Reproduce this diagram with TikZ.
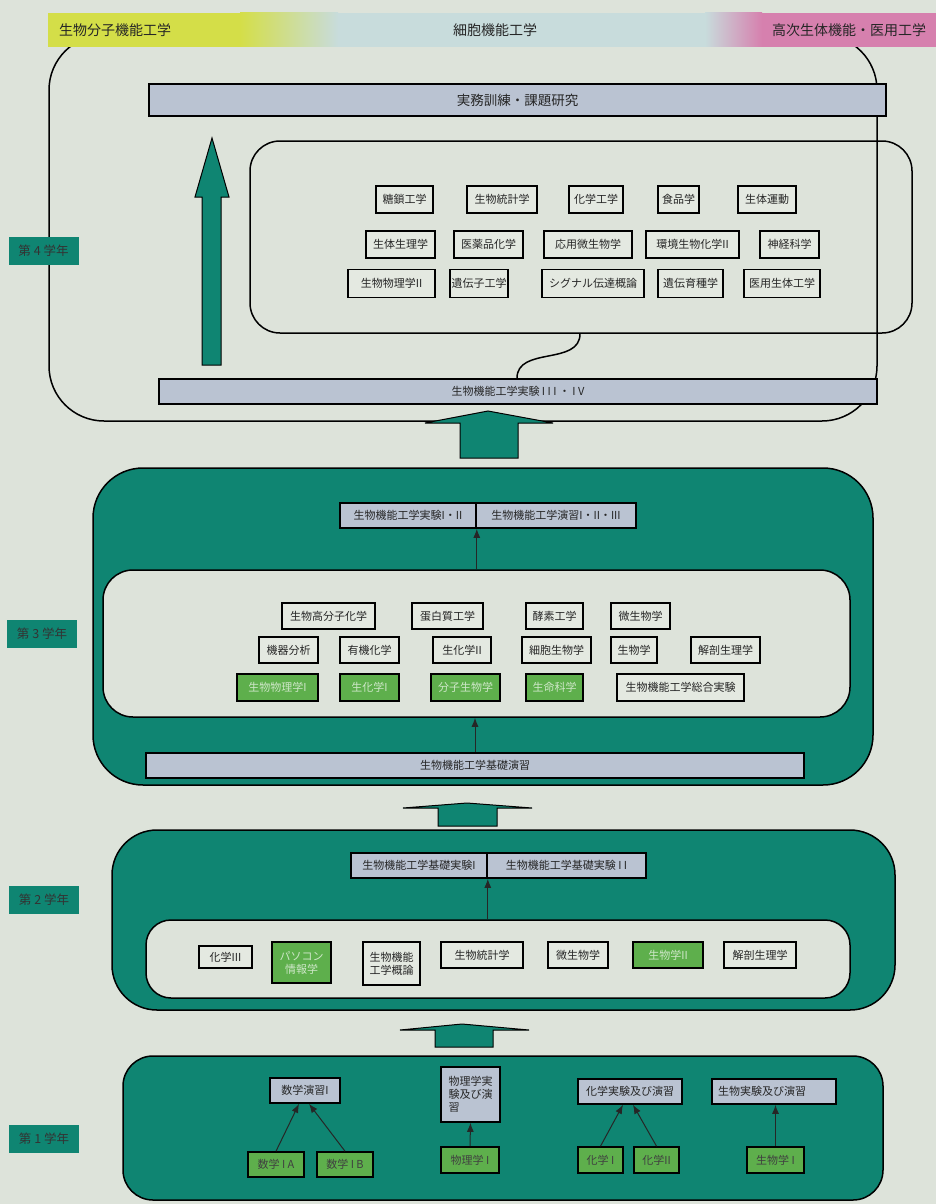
\documentclass[tikz,border=0pt]{standalone}
\usepackage{fontspec}
\setmainfont{Noto Sans CJK JP}
\usetikzlibrary{arrows.meta}

\definecolor{paper}{HTML}{DDE3DA}
\definecolor{deepteal}{HTML}{0F8572}
\definecolor{slate}{HTML}{BAC3D2}
\definecolor{leaf}{HTML}{5EAF4C}
\definecolor{lime}{HTML}{D4DE48}
\definecolor{midgreen}{HTML}{B3D58C}
\definecolor{sky}{HTML}{C8DCDC}
\definecolor{rose}{HTML}{D680AE}

\newcommand{\coursefont}{\fontsize{11}{13}\selectfont}
\newcommand{\yearfont}{\fontsize{12.5}{14}\selectfont}
\newcommand{\bannerfont}{\fontsize{14}{16}\selectfont}

\tikzset{
  box/.style 2 args={minimum width=#1, minimum height=#2},
  course/.style={draw=black, line width=1.6pt, fill=paper!80!white, inner xsep=1pt, inner ysep=1pt,
    align=center, font=\coursefont, text=black!85},
  gcourse/.style={course, fill=leaf, text=white!70!leaf},
  bar/.style={course, fill=slate},
  year/.style={fill=deepteal, text=black!80, minimum width=70, minimum height=28, inner sep=0pt, font=\yearfont},
  panel/.style={draw=black, line width=1.5pt, inner sep=0pt},
  tealpanel/.style={panel, fill=deepteal},
  up/.style={-{Latex[length=9pt,width=7pt]}, line width=1pt, draw=black!85},
  bigup/.style={fill=deepteal, draw=black, line width=1pt},
  bannertext/.style={font=\bannerfont, text=black!85},
}

\begin{document}
\begin{tikzpicture}[x=1pt, y=-1pt]
  \fill[paper] (0,0) rectangle (936,1204);
  \useasboundingbox (0,0) rectangle (936,1204);

  % 4th year
  \node[panel, fill=paper, rounded corners=55, box={828}{386}] (y4out) at (463,228) {};
  \node[panel, rounded corners=30, box={662}{192}] (y4in) at (581,237) {};
  \fill[lime] (48,13) rectangle (240,47);
  \shade[left color=lime, middle color=midgreen, right color=sky] (240,13) rectangle (338,47);
  \fill[sky] (338,13) rectangle (705,47);
  \shade[left color=sky, right color=rose] (705,13) rectangle (762,47);
  \fill[rose] (762,13) rectangle (936,47);
  \node[bannertext] (bnLeft) at (115,30) {生物分子機能工学};
  \node[bannertext] (bnMid) at (495,30) {細胞機能工学};
  \node[bannertext] (bnRight) at (849,30) {高次生体機能・医用工学};

  \node[bar, box={737}{32}, font=\fontsize{13.5}{15}\selectfont] (training) at (517.5,100) {実務訓練・課題研究};
  \node[bar, box={718}{25}] (lab34) at (518,391.5) {生物機能工学実験\ I\ I\ I\ ・\ I\ V};
  \draw[bigup] (202,365) -- (202,197) -- (195,197) -- (212,138) -- (229,197) -- (221,197) -- (221,365) -- cycle;
  \coordinate (sA) at (580,0);
  \coordinate (sB) at (517,0);
  \draw[line width=1.5pt] (y4in.south -| sA) .. controls +(0,32) and +(0,-32) .. (lab34.north -| sB);

  \node[course, box={57}{27}] (c4a) at (404.5,199.5) {糖鎖工学};
  \node[course, box={70}{27}] (c4b) at (502,199.5) {生物統計学};
  \node[course, box={54}{27}] (c4c) at (596,199.5) {化学工学};
  \node[course, box={41}{27}] (c4d) at (678.5,199.5) {食品学};
  \node[course, box={58}{27}] (c4e) at (767,199.5) {生体運動};
  \node[course, box={69}{27}] (c4f) at (400.5,244.5) {生体生理学};
  \node[course, box={69}{27}] (c4g) at (488.5,244.5) {医薬品化学};
  \node[course, box={88}{27}] (c4h) at (588,244.5) {応用微生物学};
  \node[course, box={93}{27}] (c4i) at (692.5,244.5) {環境生物化学II};
  \node[course, box={59}{27}] (c4j) at (789.5,244.5) {神経科学};
  \node[course, box={87}{28}] (c4k) at (391.5,283.5) {生物物理学II};
  \node[course, box={58}{28}] (c4l) at (479,283.5) {遺伝子工学};
  \node[course, box={102}{28}] (c4m) at (593,283.5) {シグナル伝達概論};
  \node[course, box={65}{28}] (c4n) at (690.5,283.5) {遺伝育種学};
  \node[course, box={76}{28}] (c4o) at (782,283.5) {医用生体工学};

  \draw[bigup] (460,458) -- (460,423) -- (425,423) -- (488,411) -- (553,423) -- (518,423) -- (518,458) -- cycle;

  % 3rd year
  \node[tealpanel, rounded corners=50, box={780}{317}] (y3box) at (483,626.5) {};
  \node[bar, box={136}{25}] (lab12) at (408,515.5) {生物機能工学実験I・II};
  \node[bar, box={160}{25}] (ex123) at (556,515.5) {生物機能工学演習I・II・III};
  \node[panel, fill=paper, rounded corners=30, box={747}{147}] (y3in) at (476.5,643.5) {};
  \node[bar, box={658}{25}] (basic) at (475,765.5) {生物機能工学基礎演習};
  \draw[up] (y3in.north -| lab12.south east) -- (lab12.south east);
  \draw[up] (basic.north) -- (basic.north |- y3in.south);

  \node[course, box={93}{26}] (c3a) at (328.5,616) {生物高分子化学};
  \node[course, box={71}{26}] (c3b) at (447.5,616) {蛋白質工学};
  \node[course, box={57}{26}] (c3c) at (554.5,616) {酵素工学};
  \node[course, box={59}{26}] (c3d) at (640.5,616) {微生物学};
  \node[course, box={59}{26}] (c3e) at (288.5,650) {機器分析};
  \node[course, box={59}{26}] (c3f) at (369.5,650) {有機化学};
  \node[course, box={58}{26}] (c3g) at (462,650) {生化学II};
  \node[course, box={69}{26}] (c3h) at (556.5,650) {細胞生物学};
  \node[course, box={46}{26}] (c3i) at (634,650) {生物学};
  \node[course, box={69}{26}] (c3j) at (725.5,650) {解剖生理学};
  \node[gcourse, box={81}{27}] (c3k) at (277.5,687.5) {生物物理学I};
  \node[gcourse, box={59}{27}] (c3l) at (369.5,687.5) {生化学I};
  \node[gcourse, box={69}{27}] (c3m) at (465.5,687.5) {分子生物学};
  \node[gcourse, box={57}{27}] (c3n) at (554.5,687.5) {生命科学};
  \node[course, box={127}{27}] (c3o) at (680.5,687.5) {生物機能工学総合実験};

  \draw[bigup] (438,826) -- (438,808) -- (403,808) -- (467,803) -- (532,808) -- (497,808) -- (497,826) -- cycle;

  % 2nd year
  \node[tealpanel, rounded corners=45, box={783}{180}] (y2box) at (503.5,920) {};
  \node[bar, box={136}{25}] (basic1) at (419,865.5) {生物機能工学基礎実験I};
  \node[bar, box={159}{25}] (basic2) at (566.5,865.5) {生物機能工学基礎実験\ I\ I};
  \node[panel, fill=paper, rounded corners=25, box={704}{78}] (y2in) at (498,959) {};
  \draw[up] (y2in.north -| basic1.south east) -- (basic1.south east);

  \node[course, box={53}{22}] (c2a) at (225.5,957) {化学III};
  \node[gcourse, box={59}{41}] (c2b) at (301.5,962.5) {パソコン\\情報学};
  \node[course, box={57}{43}] (c2c) at (391.5,963.5) {生物機能\\工学概論};
  \node[course, box={82}{26}] (c2d) at (482,955) {生物統計学};
  \node[course, box={60}{26}] (c2e) at (578,955) {微生物学};
  \node[gcourse, box={70}{26}] (c2f) at (668,955) {生物学II};
  \node[course, box={72}{26}] (c2g) at (760,955) {解剖生理学};

  \draw[bigup] (435,1047) -- (435,1030) -- (400,1030) -- (462,1024) -- (529,1030) -- (493,1030) -- (493,1047) -- cycle;

  % 1st year
  \node[tealpanel, rounded corners=30, box={760}{144}] (y1box) at (503,1128) {};
  \node[bar, box={70}{25}] (mathex) at (305,1090.5) {数学演習I};
  \node[bar, box={59}{55}, align=left] (physex) at (470.5,1094.5) {物理学実\\験及び演\\習};
  \node[bar, box={104}{25}] (chemex) at (630,1091.5) {化学実験及び演習};
  \node[bar, box={124}{25}, text width=112, align=left] (bioex) at (774,1091.5) {生物実験及び演習};
  \node[gcourse, text=black!75, box={56}{25}] (mathA) at (276,1164.5) {数学\ I\ A};
  \node[gcourse, text=black!75, box={56}{25}] (mathB) at (345,1164.5) {数学\ I\ B};
  \node[gcourse, text=black!75, box={58}{26}] (phys1) at (470,1160) {物理学\ I};
  \node[gcourse, text=black!75, box={45}{26}] (chem1) at (600.5,1160) {化学\ I};
  \node[gcourse, text=black!75, box={45}{26}] (chem2) at (656.5,1160) {化学II};
  \node[gcourse, text=black!75, box={57}{26}] (bio1) at (775.5,1160) {生物学\ I};
  \draw[up] (mathA.north) -- ([xshift=-6]mathex.south);
  \draw[up] (mathB.north) -- ([xshift=4]mathex.south);
  \draw[up] (phys1.north) -- (physex.south);
  \draw[up] (chem1.north) -- ([xshift=-7]chemex.south);
  \draw[up] (chem2.north) -- ([xshift=3]chemex.south);
  \draw[up] (bio1.north) -- (bioex.south -| bio1.north);

  \node[year] (yr4) at (43.5,251) {第 4 学年};
  \node[year] (yr3) at (42,633.5) {第 3 学年};
  \node[year] (yr2) at (44,899.5) {第 2 学年};
  \node[year] (yr1) at (44,1139) {第 1 学年};
\end{tikzpicture}
\end{document}
